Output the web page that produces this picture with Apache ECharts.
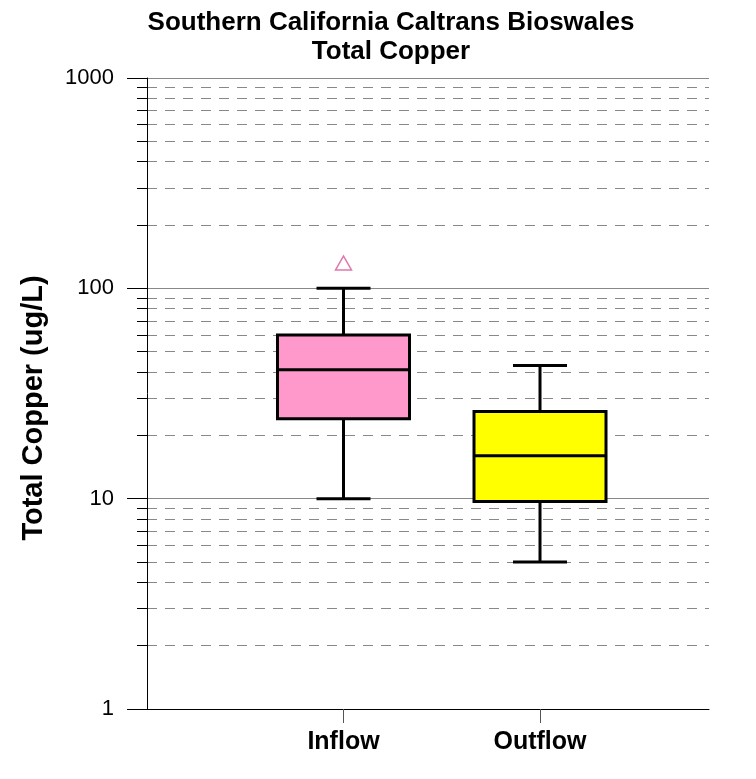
<!DOCTYPE html>
<html>
<head>
<meta charset="utf-8">
<title>Total Copper</title>
<script src="https://cdn.jsdelivr.net/npm/echarts@6/dist/echarts.min.js"></script>
<style>
html, body { margin: 0; padding: 0; background: #fff; }
#main { width: 756px; height: 779px; }
</style>
</head>
<body>
<div id="main"></div>
<script>
var categories = ['Inflow', 'Outflow'];
var lowWhisker = [10, 5];
var q1 = [24, 9.7];
var median = [41, 16];
var q3 = [60, 26];
var highWhisker = [100, 43];
var outlierCat = [0];
var outlierVal = [132];
var boxColors = ['#ff99cc', '#ffff00'];
var majorTicks = [1, 10, 100, 1000];
var minorTicks = [2, 3, 4, 5, 6, 7, 8, 9,
                  20, 30, 40, 50, 60, 70, 80, 90,
                  200, 300, 400, 500, 600, 700, 800, 900];

var font = 'Liberation Sans, Arial, sans-serif';

var boxData = categories.map(function (c, i) {
	return [i + 1, lowWhisker[i], q1[i], median[i], q3[i], highWhisker[i]];
});
var outlierData = outlierCat.map(function (c, i) {
	return [c + 1, outlierVal[i]];
});

// box + whiskers drawn from the data through the axes
function renderBox(params, api) {
	var x = api.value(0);
	var pLow = api.coord([x, api.value(1)]);
	var pQ1 = api.coord([x, api.value(2)]);
	var pMed = api.coord([x, api.value(3)]);
	var pQ3 = api.coord([x, api.value(4)]);
	var pHigh = api.coord([x, api.value(5)]);
	var cx = pMed[0], hw = 66, cw = 27;
	var ln = { stroke: '#000', lineWidth: 3 };
	return {
		type: 'group',
		children: [
			{ type: 'line', shape: { x1: cx, y1: pHigh[1], x2: cx, y2: pQ3[1] }, style: ln },
			{ type: 'line', shape: { x1: cx - cw, y1: pHigh[1], x2: cx + cw, y2: pHigh[1] }, style: ln },
			{ type: 'line', shape: { x1: cx, y1: pQ1[1], x2: cx, y2: pLow[1] }, style: ln },
			{ type: 'line', shape: { x1: cx - cw, y1: pLow[1], x2: cx + cw, y2: pLow[1] }, style: ln },
			{ type: 'rect', shape: { x: cx - hw, y: pQ3[1], width: hw * 2, height: pQ1[1] - pQ3[1] },
				style: { fill: boxColors[params.dataIndex], stroke: '#000', lineWidth: 3 } },
			{ type: 'line', shape: { x1: cx - hw, y1: pMed[1], x2: cx + hw, y2: pMed[1] }, style: ln }
		]
	};
}

var e = echarts.init(document.getElementById('main'));
e.setOption({
	animation: false,
	backgroundColor: '#fff',
	title: {
		text: 'Southern California Caltrans Bioswales\nTotal Copper',
		left: 386,
		top: 3,
		textAlign: 'center',
		textStyle: { fontFamily: font, fontSize: 26, fontWeight: 'bold', color: '#000', lineHeight: 29 }
	},
	graphic: [{
		type: 'text',
		x: 34,
		y: 408,
		rotation: Math.PI / 2,
		style: {
			text: 'Total Copper (ug/L)',
			fontFamily: font, fontSize: 29, fontWeight: 'bold', fill: '#000',
			textAlign: 'center', textVerticalAlign: 'middle'
		}
	}],
	grid: { left: 147, right: 47, top: 78, bottom: 70, containLabel: false },
	xAxis: {
		type: 'value',
		min: 0,
		max: 2.86,
		axisLine: { show: true, onZero: false, lineStyle: { color: '#000', width: 1 } },
		axisTick: { show: true, length: 14, customValues: [1, 2], lineStyle: { color: '#555' } },
		axisLabel: {
			customValues: [1, 2],
			formatter: function (v) { return categories[Math.round(v) - 1] || ''; },
			fontFamily: font, fontSize: 25, fontWeight: 'bold', color: '#000', margin: 21
		},
		splitLine: { show: false }
	},
	yAxis: [{
		type: 'log',
		logBase: 10,
		min: 1,
		max: 1000,
		axisLine: { show: true, lineStyle: { color: '#000', width: 1 } },
		axisTick: { show: true, length: 20, customValues: majorTicks, lineStyle: { color: '#000' } },
		axisLabel: {
			customValues: majorTicks,
			formatter: function (v) { return String(v); },
			fontFamily: font, fontSize: 22, color: '#000', margin: 33
		},
		splitLine: { show: true, lineStyle: { color: '#888', width: 1 } }
	}, {
		type: 'log',
		logBase: 10,
		min: 1,
		max: 1000,
		position: 'left',
		offset: 0,
		axisLine: { show: false },
		axisLabel: { show: false },
		axisTick: { show: true, length: 10, customValues: minorTicks, lineStyle: { color: '#000' } },
		splitLine: { show: true, lineStyle: { color: '#888', width: 1, type: [10, 8] } }
	}],
	series: [{
		type: 'custom',
		renderItem: renderBox,
		encode: { x: 0, y: [1, 2, 3, 4, 5] },
		data: boxData,
		z: 3
	}, {
		type: 'scatter',
		data: outlierData,
		symbol: 'triangle',
		symbolSize: [16, 14],
		itemStyle: { color: '#fff', borderColor: '#d6589a', borderWidth: 1.5 },
		z: 4
	}]
});
window.addEventListener('resize', function () { e.resize(); });
</script>
</body>
</html>
